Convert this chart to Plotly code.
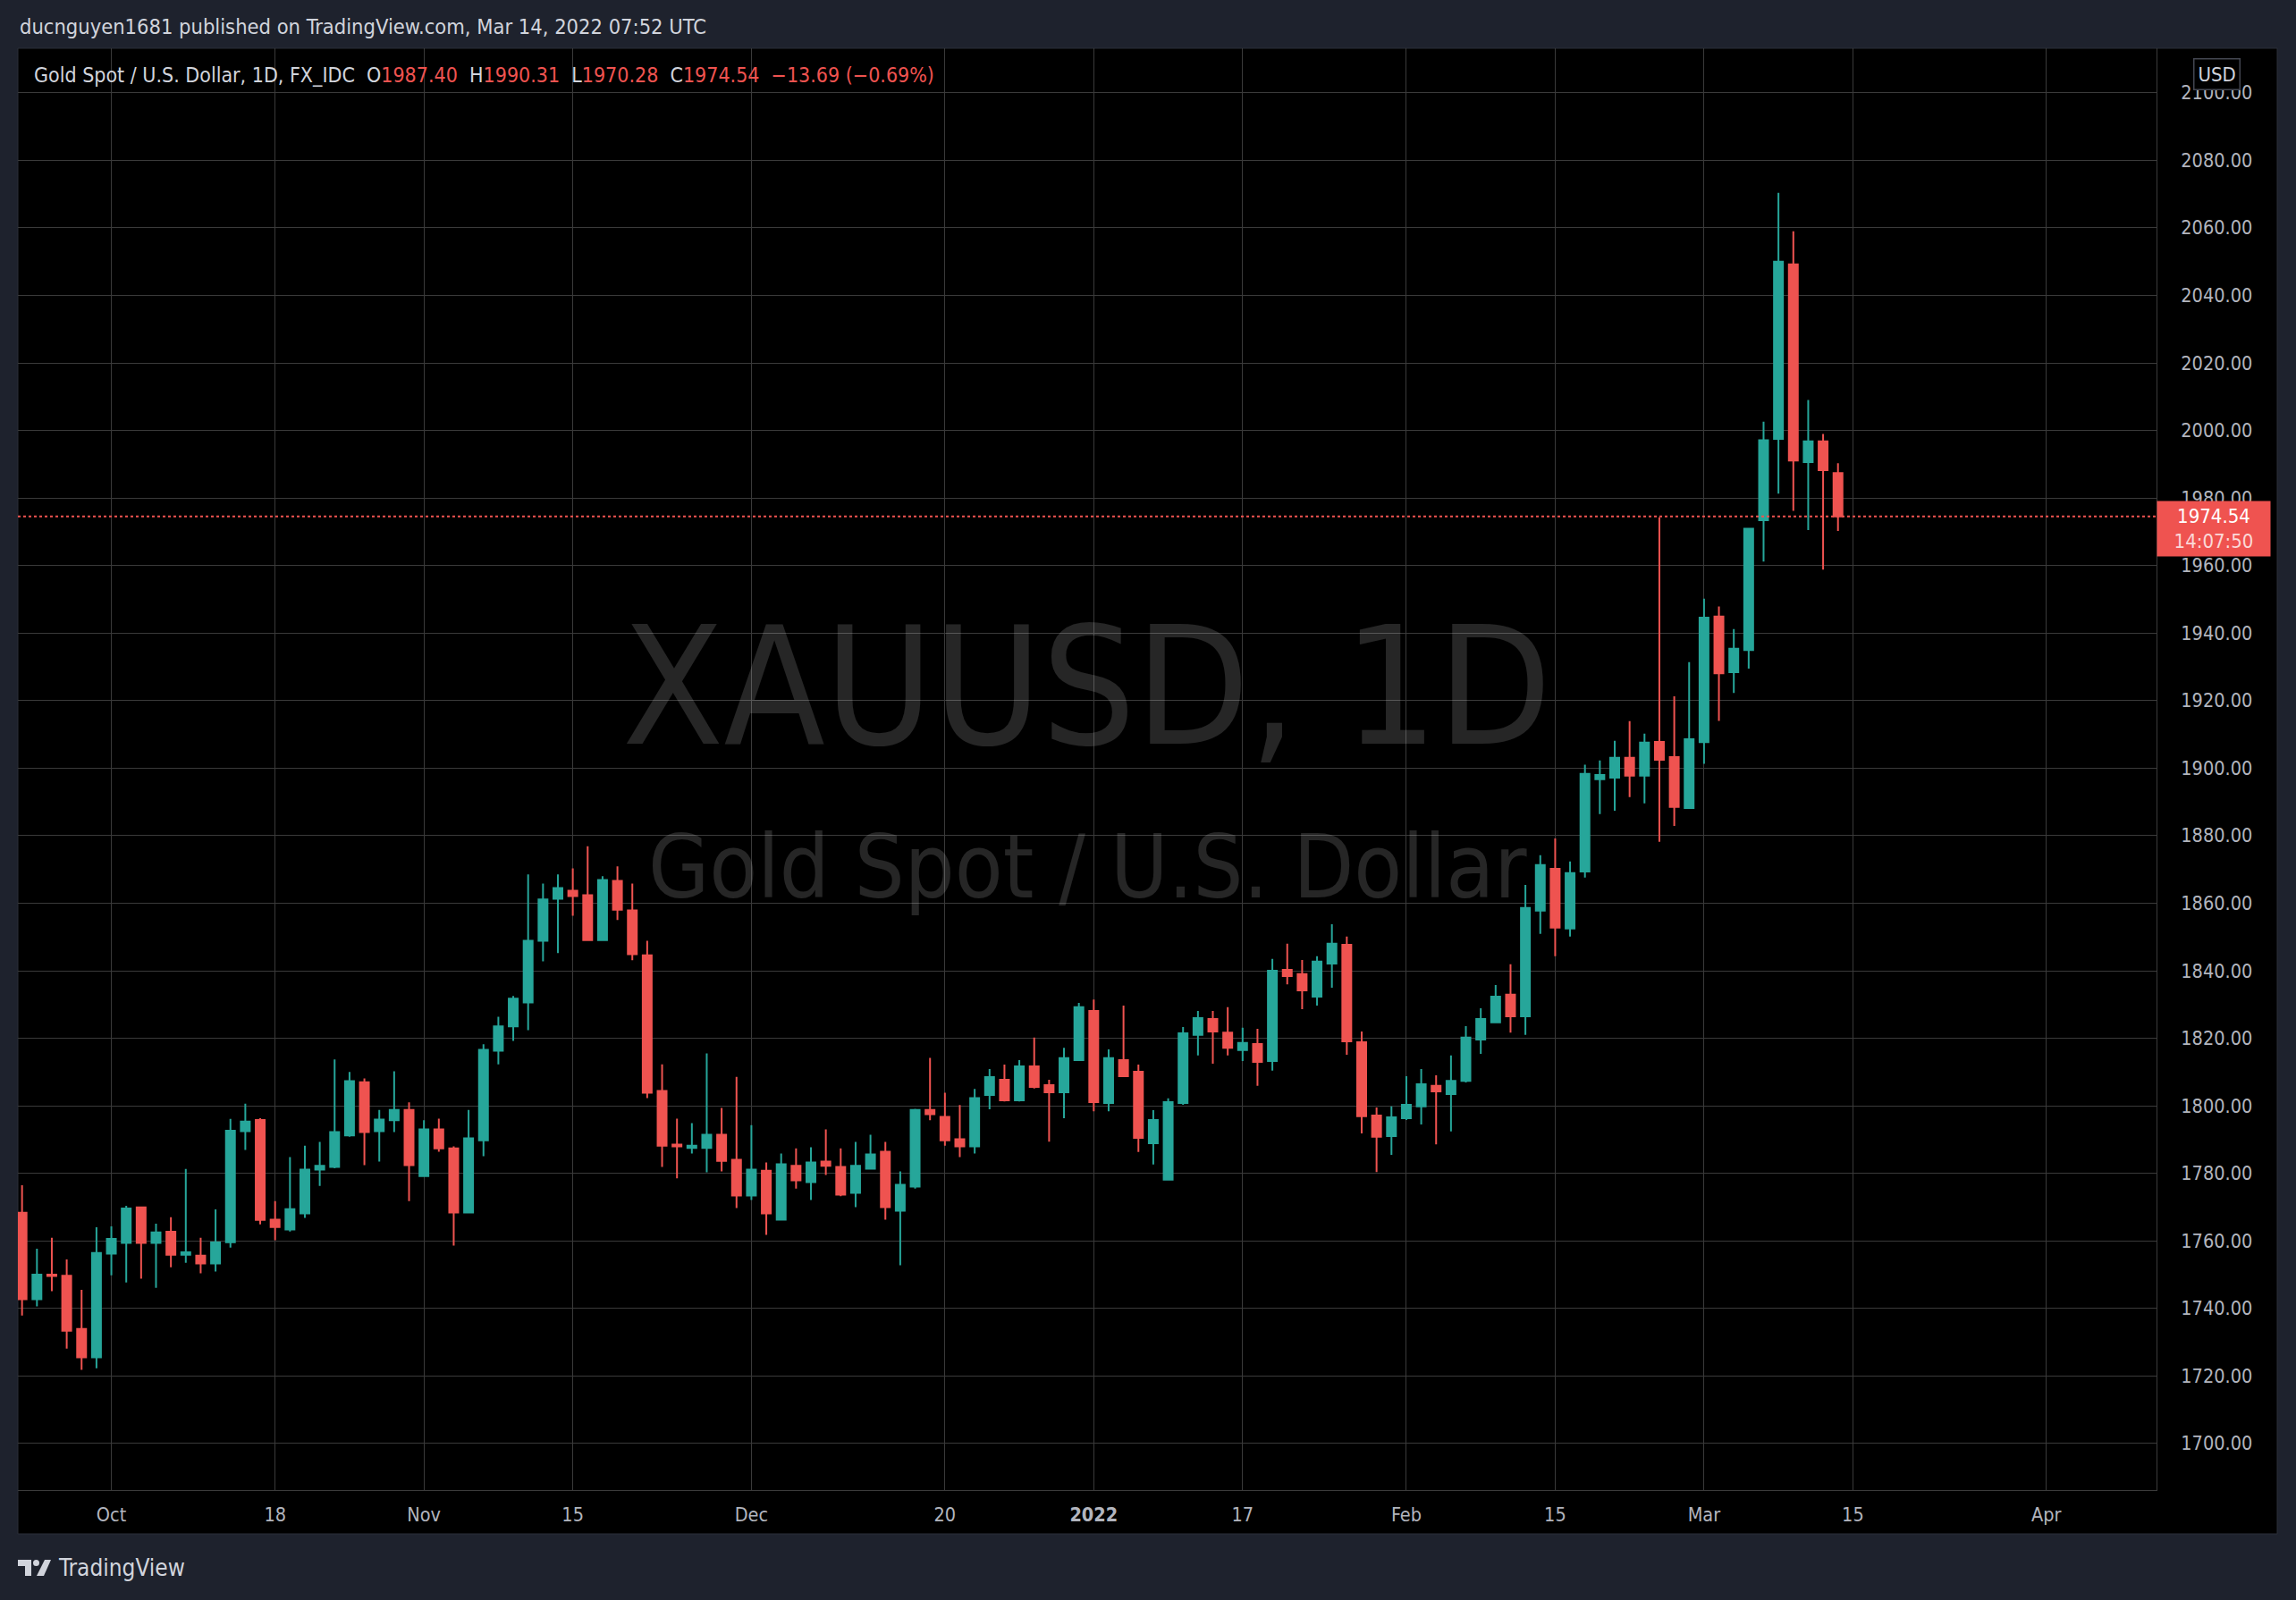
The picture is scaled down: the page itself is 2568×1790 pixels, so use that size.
import pandas as pd
import plotly.graph_objects as go

# ---------------- data (XAUUSD daily, FX_IDC) ----------------
start_date = "2021-09-23"

opens = [
    1768.3, 1742.7, 1750.0, 1749.7, 1733.9, 1725.5,
    # Oct
    1756.2, 1759.4, 1769.9, 1759.4, 1762.7, 1755.9, 1755.6, 1753.3, 1759.6, 1792.5,
    1795.8, 1766.3, 1763.4, 1768.1, 1781.1, 1781.9, 1791.2, 1807.0, 1792.5, 1795.7, 1798.8,
    # Nov
    1779.2, 1793.0, 1787.4, 1768.4, 1789.8, 1816.3, 1823.5, 1830.6, 1848.9, 1861.3,
    1863.7, 1862.4, 1849.1, 1866.6, 1857.9, 1844.6, 1804.4, 1788.5, 1787.5, 1787.5, 1791.4, 1784.0,
    # Dec
    1773.4, 1780.8, 1766.3, 1782.2, 1777.4, 1783.5, 1781.9, 1774.2, 1781.4, 1786.4,
    1768.9, 1776.1, 1798.8, 1796.7, 1790.1, 1788.0, 1803.2, 1807.7, 1801.6, 1811.7,
    1806.1, 1804.0, 1813.5,
    # Jan
    1828.1, 1800.8, 1813.5, 1810.1, 1788.9, 1778.1, 1800.8, 1821.0, 1825.7, 1821.7,
    1816.5, 1818.3, 1813.3, 1840.3, 1839.0, 1832.3, 1842.1, 1847.7, 1818.8, 1797.1, 1791.0,
    # Feb
    1796.3, 1799.8, 1805.9, 1803.5, 1807.4, 1819.6, 1824.7, 1832.9, 1826.5, 1857.8,
    1870.2, 1852.5, 1869.4, 1896.7, 1897.2, 1903.1, 1897.8, 1907.8, 1903.3, 1888.2,
    # Mar
    1907.7, 1944.9, 1928.4, 1935.0, 1973.4, 1997.5, 2049.2, 1990.6, 1996.8, 1987.40,
]
highs = [
    1776.5, 1757.7, 1760.9, 1754.5, 1745.5, 1764.0,
    1764.3, 1770.4, 1770.1, 1765.1, 1767.0, 1781.3, 1760.9, 1769.3, 1796.1, 1800.6,
    1796.3, 1771.8, 1784.8, 1788.2, 1789.3, 1813.7, 1810.0, 1808.1, 1798.8, 1810.2, 1801.0,
    1795.7, 1796.2, 1788.0, 1798.8, 1818.2, 1826.4, 1832.5, 1868.5, 1865.8, 1868.5,
    1870.3, 1876.9, 1868.0, 1870.9, 1865.8, 1848.9, 1812.3, 1796.2, 1794.9, 1815.5, 1799.4, 1808.6,
    1794.3, 1783.2, 1785.9, 1787.4, 1787.7, 1793.0, 1787.4, 1789.3, 1791.4, 1789.3,
    1780.6, 1799.1, 1814.2, 1803.9, 1800.2, 1805.0, 1810.9, 1812.2, 1813.5, 1820.2,
    1807.7, 1817.2, 1830.5,
    1831.5, 1816.7, 1829.7, 1812.2, 1798.7, 1802.2, 1823.3, 1828.1, 1828.1, 1829.2,
    1823.1, 1822.8, 1843.5, 1848.0, 1843.2, 1844.3, 1853.8, 1850.1, 1822.0, 1799.5, 1799.8,
    1808.8, 1810.9, 1809.0, 1814.9, 1823.6, 1828.9, 1835.8, 1841.9, 1865.4, 1874.2,
    1879.2, 1872.4, 1901.0, 1902.3, 1908.1, 1913.9, 1910.2, 1974.3, 1921.3, 1931.4,
    1950.2, 1947.9, 1941.2, 1971.0, 2002.6, 2070.4, 2059.0, 2009.0, 1999.0, 1990.31,
]
lows = [
    1737.9, 1740.6, 1745.1, 1728.1, 1721.8, 1722.3,
    1749.8, 1747.7, 1748.8, 1746.1, 1752.2, 1753.5, 1750.4, 1750.9, 1758.0, 1786.9,
    1764.9, 1760.2, 1762.8, 1766.8, 1776.3, 1781.5, 1790.8, 1782.4, 1783.5, 1792.2, 1771.8,
    1779.0, 1786.4, 1758.6, 1768.2, 1785.1, 1812.3, 1819.2, 1822.4, 1842.8, 1845.2,
    1856.3, 1849.0, 1849.0, 1855.0, 1843.1, 1802.3, 1781.9, 1778.5, 1785.9, 1780.3, 1780.6, 1769.7,
    1772.1, 1761.8, 1766.0, 1775.5, 1772.1, 1779.5, 1773.2, 1770.0, 1781.4, 1766.3,
    1752.8, 1775.5, 1795.7, 1788.2, 1784.8, 1785.9, 1799.0, 1801.3, 1801.3, 1805.1,
    1789.4, 1796.3, 1813.4,
    1798.4, 1798.4, 1808.5, 1786.3, 1782.6, 1778.0, 1800.3, 1814.9, 1812.5, 1814.9,
    1813.3, 1805.9, 1810.4, 1836.0, 1828.6, 1829.7, 1835.0, 1815.1, 1791.8, 1780.4, 1785.5,
    1795.8, 1794.5, 1788.6, 1792.4, 1806.9, 1815.4, 1824.5, 1821.7, 1821.0, 1850.9,
    1844.3, 1850.1, 1867.6, 1886.4, 1887.4, 1891.4, 1889.6, 1878.2, 1882.9, 1888.0,
    1901.3, 1914.0, 1922.3, 1929.5, 1961.2, 1981.3, 1976.2, 1970.5, 1958.8, 1970.28,
]
closes = [
    1742.7, 1750.0, 1749.6, 1733.4, 1725.5, 1756.4,
    1760.6, 1769.6, 1759.4, 1762.5, 1755.9, 1756.6, 1753.3, 1759.5, 1792.6, 1795.3,
    1766.2, 1764.1, 1769.4, 1781.1, 1782.2, 1792.2, 1807.3, 1792.2, 1795.9, 1798.8, 1782.4,
    1793.0, 1787.4, 1768.4, 1790.4, 1816.6, 1823.5, 1831.7, 1848.9, 1861.1, 1864.5,
    1862.1, 1849.1, 1866.9, 1858.1, 1844.9, 1803.9, 1788.2, 1788.0, 1788.2, 1791.4, 1783.7, 1773.4,
    1781.1, 1768.1, 1782.7, 1777.9, 1783.2, 1782.2, 1773.7, 1782.2, 1785.6, 1770.0,
    1776.6, 1798.8, 1797.5, 1789.8, 1788.0, 1802.3, 1808.5, 1801.6, 1811.7, 1805.6,
    1804.0, 1814.1, 1829.2,
    1801.1, 1814.1, 1808.8, 1790.5, 1795.8, 1801.1, 1821.5, 1826.0, 1822.0, 1817.2,
    1818.6, 1813.0, 1840.0, 1838.4, 1834.2, 1842.7, 1848.0, 1819.1, 1796.9, 1790.8, 1796.6,
    1800.3, 1806.4, 1804.3, 1807.4, 1820.2, 1825.7, 1832.3, 1826.5, 1858.6, 1871.3,
    1852.8, 1868.9, 1898.3, 1898.0, 1903.1, 1897.8, 1907.6, 1902.5, 1888.5, 1908.6,
    1944.6, 1928.1, 1935.4, 1970.9, 1997.1, 2050.0, 1991.1, 1996.8, 1988.23, 1974.54,
]

tick_dates = ["2021-10-01", "2021-10-18", "2021-11-01", "2021-11-15", "2021-12-01",
              "2021-12-20", "2022-01-03", "2022-01-17", "2022-02-01", "2022-02-15",
              "2022-03-01", "2022-03-15", "2022-04-01"]
tick_labels = ["Oct", "18", "Nov", "15", "Dec", "20", "<b>2022</b>", "17", "Feb", "15",
               "Mar", "15", "Apr"]

symbol_title = "Gold Spot / U.S. Dollar, 1D, FX_IDC"
header_text = "ducnguyen1681 published on TradingView.com, Mar 14, 2022 07:52 UTC"
watermark_1 = "XAUUSD, 1D"
watermark_2 = "Gold Spot / U.S. Dollar"
countdown = "14:07:50"

# ---------------- styling ----------------
UP = "#26a69a"
DOWN = "#ef5350"
GRID = "#3a3a3a"
TXT = "#d1d4dc"
AXT = "#b2b5be"
FRAME_BG = "#1e222d"
FONT = "DejaVu Sans Condensed, DejaVu Sans, sans-serif"

W, H = 2568, 1790
PL, PR, PT, PB = 20, 2412, 54, 1667  # plot area in pixels


def px(x):
    return (x - PL) / (PR - PL)


def py(y):
    return (PB - y) / (PB - PT)


# trading-day calendar -> integer positions (TradingView style, no gaps)
calendar = pd.bdate_range(start_date, "2022-04-29")
pos = {d.strftime("%Y-%m-%d"): i for i, d in enumerate(calendar)}
dates = [d.strftime("%Y-%m-%d") for d in calendar[:len(closes)]]
xs = [pos[d] for d in dates]
tickvals = [pos[d] for d in tick_dates]

fig = go.Figure()
fig.add_trace(go.Candlestick(
    x=xs, open=opens, high=highs, low=lows, close=closes,
    increasing=dict(line=dict(color=UP, width=2), fillcolor=UP),
    decreasing=dict(line=dict(color=DOWN, width=2), fillcolor=DOWN),
    whiskerwidth=0, hovertext=dates, hoverinfo="text",
))

last_o, last_h, last_l, last_c = opens[-1], highs[-1], lows[-1], closes[-1]
chg = last_c - closes[-2]
pct = chg / closes[-2] * 100


def red(s):
    return f"<span style='color:{DOWN}'>{s}</span>"


nb = "\u00a0"
legend_text = (f"{symbol_title}{nb}{nb}O{red(f'{last_o:.2f}')}{nb}{nb}H{red(f'{last_h:.2f}')}"
               f"{nb}{nb}L{red(f'{last_l:.2f}')}{nb}{nb}C{red(f'{last_c:.2f}')}{nb}{nb}"
               + red(f"{chg:+.2f} ({pct:+.2f}%)".replace("-", "\u2212")))

shapes = [
    # black chart frame (plot + price scale + time scale)
    dict(type="rect", xref="paper", yref="paper", x0=px(20), x1=px(2547), y0=py(1716), y1=py(54),
         fillcolor="#000000", line=dict(color="#2a2e39", width=1), layer="below"),
    # last price dotted line
    dict(type="line", xref="paper", yref="y", x0=0, x1=1, y0=last_c, y1=last_c,
         line=dict(color=DOWN, width=2, dash="dot")),
    # TradingView logo
    dict(type="path", xref="paper", yref="paper",
         path=(f"M {px(20)},{py(1745)} L {px(35)},{py(1745)} L {px(35)},{py(1763)} "
               f"L {px(28)},{py(1763)} L {px(28)},{py(1752)} L {px(20)},{py(1752)} Z"),
         fillcolor=TXT, line=dict(width=0)),
    dict(type="circle", xref="paper", yref="paper", x0=px(37), x1=px(44), y0=py(1752), y1=py(1745),
         fillcolor=TXT, line=dict(width=0)),
    dict(type="path", xref="paper", yref="paper",
         path=(f"M {px(41)},{py(1763)} L {px(49)},{py(1763)} L {px(57)},{py(1745)} "
               f"L {px(50)},{py(1745)} Z"),
         fillcolor=TXT, line=dict(width=0)),
]

annotations = [
    dict(text=watermark_1, xref="paper", yref="paper", x=0.5, y=py(768), xanchor="center",
         yanchor="middle", showarrow=False,
         font=dict(family=FONT, size=184, color="rgba(255,255,255,0.15)")),
    dict(text=watermark_2, xref="paper", yref="paper", x=0.5, y=py(970), xanchor="center",
         yanchor="middle", showarrow=False,
         font=dict(family=FONT, size=98, color="rgba(255,255,255,0.15)")),
    dict(text=header_text, xref="paper", yref="paper", x=px(20), y=py(30), xanchor="left",
         yanchor="middle", showarrow=False, font=dict(family=FONT, size=23.5, color=TXT)),
    dict(text=legend_text, xref="paper", yref="paper", x=px(36), y=py(84), xanchor="left",
         yanchor="middle", showarrow=False, font=dict(family=FONT, size=23, color=TXT)),
    dict(text="USD", xref="paper", yref="paper", x=px(2479), y=py(83), xanchor="center",
         yanchor="middle", showarrow=False, bgcolor="#000000", bordercolor="#434651",
         borderwidth=1.5, borderpad=4, font=dict(family=FONT, size=22, color=TXT)),
    dict(text=f"{last_c:.2f}<br><span style='color:rgba(255,255,255,0.78)'>{countdown}</span>",
         xref="paper", yref="y", x=1, y=last_c, xanchor="left", yanchor="middle", yshift=-14,
         showarrow=False, bgcolor=DOWN, borderpad=3, width=120, height=55, align="center",
         font=dict(family=FONT, size=22, color="#ffffff")),
    dict(text="TradingView", xref="paper", yref="paper", x=px(63), y=py(1754), xanchor="left",
         yanchor="middle", showarrow=False, font=dict(family=FONT, size=26, color=TXT)),
]

fig.update_layout(
    width=W, height=H,
    margin=dict(l=PL, r=W - PR, t=PT, b=H - PB, pad=0),
    paper_bgcolor=FRAME_BG, plot_bgcolor="#000000",
    showlegend=False, hovermode=False,
    boxgap=0.4, boxgroupgap=0,
    font=dict(family=FONT, size=21, color=AXT),
    xaxis=dict(range=[-0.28, 143.4], tickmode="array", tickvals=tickvals, ticktext=tick_labels,
               showgrid=True, gridcolor=GRID, gridwidth=1, zeroline=False,
               rangeslider=dict(visible=False), showline=True, linecolor="#3b3b3b", linewidth=1,
               ticks="", ticklabelstandoff=8, tickfont=dict(family=FONT, size=21.5, color=AXT)),
    yaxis=dict(side="right", range=[1686.2, 2113.2], tick0=1700, dtick=20, tickformat=".2f",
               showgrid=True, gridcolor=GRID, gridwidth=1, zeroline=False, showline=True,
               linecolor="#3b3b3b", linewidth=1, ticks="", ticklabelstandoff=22,
               tickfont=dict(family=FONT, size=21.5, color=AXT)),
    shapes=shapes, annotations=annotations,
)

fig.write_html("out.html", config={"displayModeBar": False},
               post_script="document.body.style.margin='0';document.body.style.overflow='hidden';")
